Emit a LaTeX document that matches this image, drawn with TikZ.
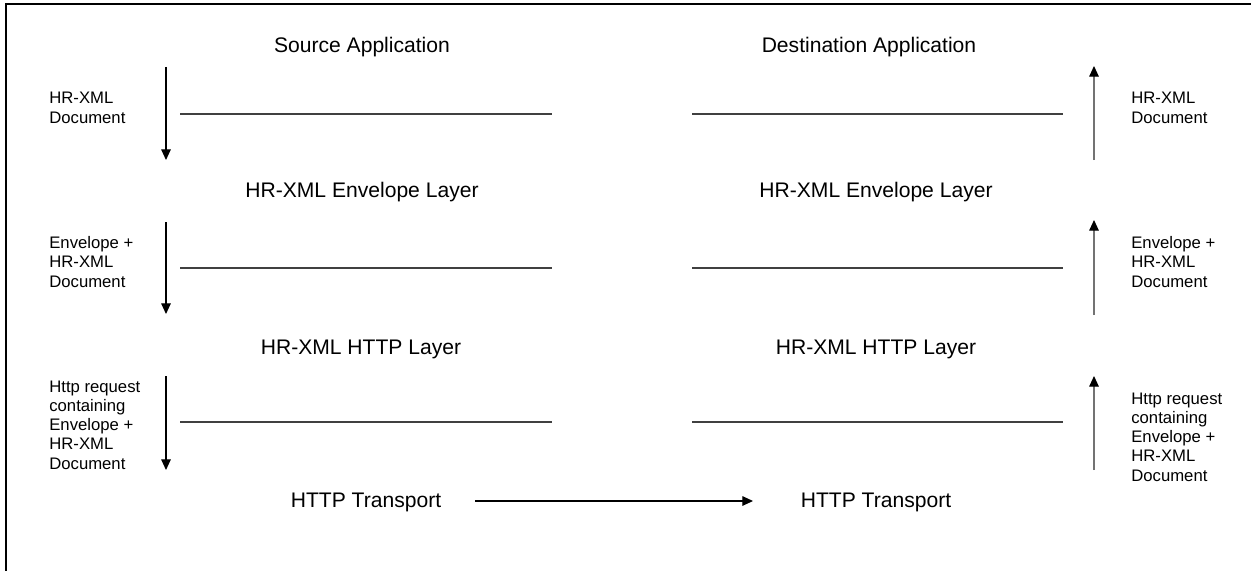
\documentclass[tikz,border=0pt]{standalone}
\usepackage{fontspec}
\setmainfont{Liberation Sans}
\usepackage{tikz}
\usetikzlibrary{arrows.meta}
\usetikzlibrary{positioning}

\tikzset{
	layer/.style={inner sep=0pt, font=\fontsize{12}{14}\selectfont},
	note/.style={inner sep=0pt, align=left, font=\fontsize{9.5}{11}\selectfont},
	flow/.style={-{Triangle[length=6pt,width=5.4pt]}, line width=0.6pt},
	upflow/.style={-{Triangle[length=6pt,width=5.4pt,black]}, line width=0.6pt, black!55},
	rule/.style={line width=0.6pt, black!75}
}

\begin{document}
\begin{tikzpicture}[x=0.02cm, y=-0.02cm]
			\useasboundingbox (0,0) rectangle (1251,571);
			\draw[line width=1.5pt] (6,600) -- (6,4) -- (1260,4);

			\node[layer] (s1) at (362,47) {Source Application};
			\node[layer] (d1) at (869,47) {Destination Application};
			\node[layer] (s2) at (362,192) {HR-XML Envelope Layer};
			\node[layer] (d2) at (876,192) {HR-XML Envelope Layer};
			\node[layer] (s3) at (361,349) {HR-XML HTTP Layer};
			\node[layer] (d3) at (876,349) {HR-XML HTTP Layer};
			\node[layer] (s4) at (366,502) {HTTP Transport};
			\node[layer] (d4) at (876,502) {HTTP Transport};

			\node[note, anchor=west] (sn1) at (49,108) {HR-XML\\Document};
			\node[note, anchor=west] (sn2) at (49,262) {Envelope +\\HR-XML\\Document};
			\node[note, anchor=west] (sn3) at (49,425) {Http request\\containing\\Envelope +\\HR-XML\\Document};
			\node[note, anchor=west] (dn1) at (1131,108) {HR-XML\\Document};
			\node[note, anchor=west] (dn2) at (1131,262) {Envelope +\\HR-XML\\Document};
			\node[note, anchor=west] (dn3) at (1131,437) {Http request\\containing\\Envelope +\\HR-XML\\Document};

			% down the source stack
			\coordinate (sa1) at (166,67);
			\coordinate (sb1) at (166,160);
			\coordinate (sa2) at (166,222);
			\coordinate (sb2) at (166,314);
			\coordinate (sa3) at (166,376);
			\coordinate (sb3) at (166,470);

			% up the destination stack
			\coordinate (da1) at (1094,160);
			\coordinate (db1) at (1094,66);
			\coordinate (da2) at (1094,315);
			\coordinate (db2) at (1094,220);
			\coordinate (da3) at (1094,470);
			\coordinate (db3) at (1094,376);

			% layer separators
			\coordinate (sl1) at (180,114);
			\coordinate (sr1) at (552,114);
			\coordinate (dl1) at (692,114);
			\coordinate (dr1) at (1063,114);
			\coordinate (sl2) at (180,268);
			\coordinate (sr2) at (552,268);
			\coordinate (dl2) at (692,268);
			\coordinate (dr2) at (1063,268);
			\coordinate (sl3) at (180,422);
			\coordinate (sr3) at (552,422);
			\coordinate (dl3) at (692,422);
			\coordinate (dr3) at (1063,422);

			\coordinate (ta) at (475,501);
			\coordinate (tb) at (753,501);

			\draw[flow] (sa1) -- (sb1);
			\draw[flow] (sa2) -- (sb2);
			\draw[flow] (sa3) -- (sb3);
			\draw[upflow] (da1) -- (db1);
			\draw[upflow] (da2) -- (db2);
			\draw[upflow] (da3) -- (db3);

			\draw[rule] (sl1) -- (sr1);
			\draw[rule] (dl1) -- (dr1);
			\draw[rule] (sl2) -- (sr2);
			\draw[rule] (dl2) -- (dr2);
			\draw[rule] (sl3) -- (sr3);
			\draw[rule] (dl3) -- (dr3);

			\draw[flow] (ta) -- (tb);
\end{tikzpicture}
\end{document}
